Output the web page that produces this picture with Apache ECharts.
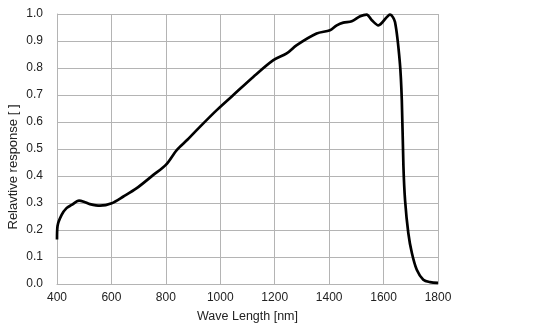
<!DOCTYPE html>
<html><head><meta charset="utf-8">
<script src="https://cdn.jsdelivr.net/npm/echarts@6/dist/echarts.min.js"></script>
<style>html,body{margin:0;padding:0;background:#fff}#c{width:554px;height:331px}</style>
</head><body><div id="c"></div>
<script>
var wavelength = [400,402,417,435,454,481,503,521,558,601,644,693,754,800,840,880,925,987,1048,1121,1195,1244,1281,1354,1403,1428,1452,1483,1514,1538,1557,1581,1624,1642,1660,1667,1673,1679,1691,1704,1722,1746,1771,1800];
var response   = [0.165,0.215,0.256,0.281,0.293,0.309,0.303,0.296,0.290,0.299,0.324,0.355,0.404,0.441,0.496,0.535,0.582,0.644,0.700,0.767,0.829,0.854,0.885,0.928,0.940,0.958,0.968,0.973,0.992,0.998,0.977,0.958,0.998,0.970,0.817,0.681,0.435,0.31,0.188,0.115,0.053,0.016,0.007,0.004];
var xTicks = {min:400,max:1800,step:200};
var yTicks = {min:0,max:1,step:0.1};
var xName = 'Wave Length [nm]';
var yName = 'Relavtive response [ ]';

var pts = wavelength.map(function(w,i){return [w,response[i]];});
var chart = echarts.init(document.getElementById('c'));
var grid = '#b4b4b4';
var font = {fontFamily:'Liberation Sans, Arial, sans-serif', fontSize:12, color:'#222'};
chart.setOption({
  animation:false,
  grid:{left:57,top:14,right:116,bottom:47,containLabel:false,outerBoundsMode:'none'},
  xAxis:{type:'value',min:xTicks.min,max:xTicks.max,interval:xTicks.step,
    name:xName,nameLocation:'middle',nameGap:26,nameMoveOverlap:false,
    nameTextStyle:Object.assign({},font,{fontSize:12.5}),
    axisLine:{lineStyle:{color:grid,width:1}},axisTick:{show:false},
    axisLabel:Object.assign({margin:8,formatter:function(v){return String(v);}},font),
    splitLine:{show:true,lineStyle:{color:grid,width:1}}},
  yAxis:{type:'value',min:yTicks.min,max:yTicks.max,interval:yTicks.step,
    name:yName,nameLocation:'middle',nameGap:37,nameMoveOverlap:false,
    nameTextStyle:Object.assign({},font,{fontSize:13,padding:[0,36,0,0]}),
    axisLine:{show:true,lineStyle:{color:grid,width:1}},axisTick:{show:false},
    axisLabel:Object.assign({margin:14,formatter:function(v){return v.toFixed(1);}},font),
    splitLine:{show:true,lineStyle:{color:grid,width:1}}},
  series:[{type:'line',data:pts,showSymbol:false,smooth:0.3,
    lineStyle:{color:'#000',width:2.7}}]
});
</script></body></html>
